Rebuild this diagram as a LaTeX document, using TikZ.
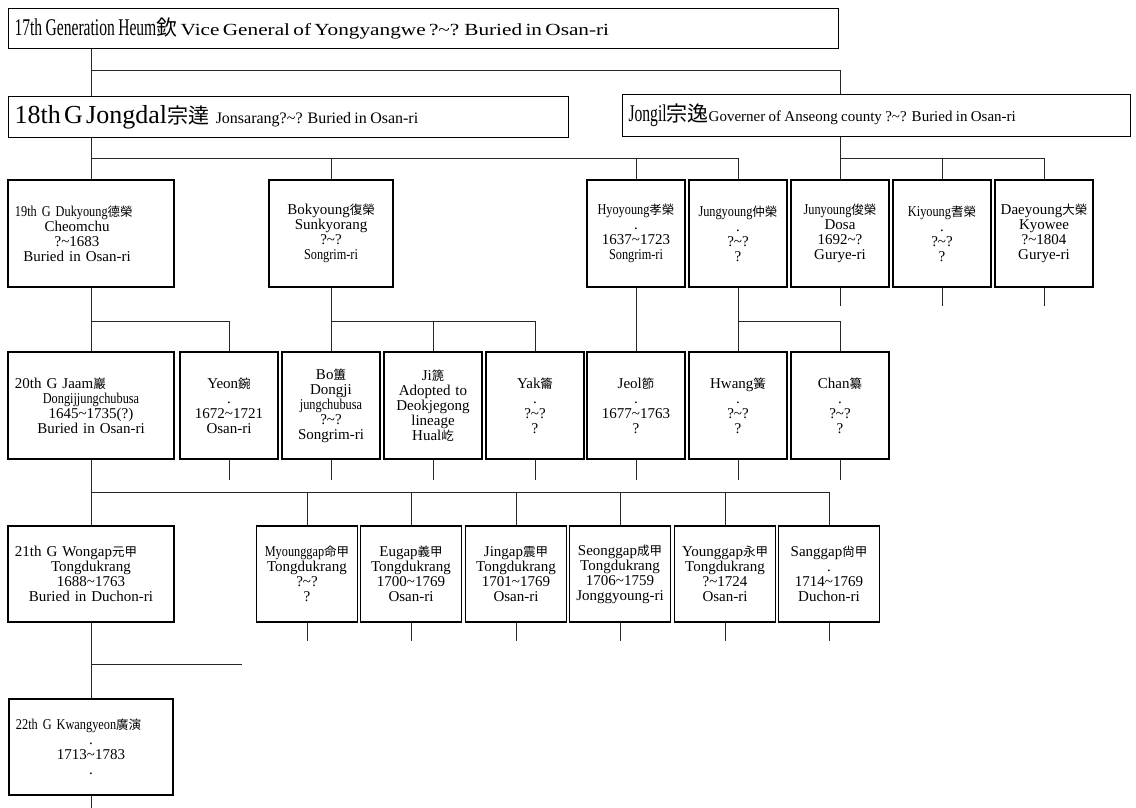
\documentclass[tikz,border=0pt]{standalone}
\usepackage{fontspec}
\setmainfont{Liberation Serif}
\newfontfamily\cjkfont{Noto Sans CJK KR}
\newfontfamily\narrowfont[FakeStretch=0.65]{Liberation Serif}
\newfontfamily\condfont[FakeStretch=0.82]{Liberation Serif}
\newfontfamily\widefont[FakeStretch=1.25]{Liberation Serif}
\usetikzlibrary{positioning,calc}
\newcommand\hj[1]{{\cjkfont\fontsize{12.5pt}{15pt}\selectfont #1}}
\newcommand\hjbig[1]{{\cjkfont\fontsize{21pt}{24pt}\selectfont #1}}
\newcommand\cond[1]{{\condfont #1}}
\newcommand\tld{\textasciitilde}
\newcommand\firstline[1]{\makebox[\linewidth][l]{#1}}
\newcommand\pushleft[1]{#1\hbox to 28pt{}}
\tikzset{
  headbox/.style={rectangle, draw=black, line width=1.1pt, inner xsep=6pt, inner ysep=2pt,
                  align=left, anchor=north west},
  genbox/.style ={rectangle, draw=black, line width=1.1pt, minimum width=166pt, minimum height=107pt,
                  text width=152pt, inner xsep=7pt, align=center, font=\fontsize{15pt}{15pt}\selectfont},
  sonbox/.style ={rectangle, draw=black, line width=1.1pt, minimum width=98pt, minimum height=107pt,
                  text width=96pt, inner xsep=1pt, align=center, font=\fontsize{15pt}{15pt}\selectfont},
  link/.style   ={draw=black!85, line width=0.8pt},
  stub/.style   ={draw=black!85, line width=0.8pt}
}
\begin{document}
\begin{tikzpicture}[x=1pt,y=-1pt]
\fill[white] (0,0) rectangle (1136,807);
% bus lines
\coordinate (bus17) at (0,70);
\coordinate (bus18) at (0,158);
\coordinate (bus19) at (0,321);
\coordinate (bus20) at (0,492);
\coordinate (bus21) at (0,664);
\coordinate (spur) at (242,664);
% 17th and 18th generation
\node[headbox, text width=818pt, minimum height=40pt] (T17) at (8,8)
  {{\narrowfont\fontsize{24pt}{24pt}\selectfont 17th Generation Heum\hjbig{欽}}\ 
   {\widefont\fontsize{17pt}{17pt}\selectfont Vice General of Yongyangwe ?\tld? Buried in Osan-ri}};
\node[headbox, text width=548pt, minimum height=41pt] (J18) at (8,96)
  {{\fontsize{26pt}{26pt}\selectfont 18th G Jongdal\hjbig{宗達}}\ \
   {\fontsize{16pt}{16pt}\selectfont Jonsarang?\tld? Buried in Osan-ri}};
\node[headbox, text width=496pt, minimum height=42pt] (JI18) at (622,94)
  {{\narrowfont\fontsize{24pt}{24pt}\selectfont Jongil\hjbig{宗逸}}%
   {\fontsize{15pt}{15pt}\selectfont Governer of Anseong county ?\tld? Buried in Osan-ri}};
% 19th generation
\node[genbox] (D19) at (91,233.5)
  {\firstline{\cond{19th G Dukyoung}\hj{德榮}}\\\pushleft{Cheomchu}\\\pushleft{?\tld1683}\\\pushleft{Buried in Osan-ri}};
\node[sonbox, minimum width=124pt, text width=122pt] (B19) at (331,233.5)
  {Bokyoung\hj{復榮}\\Sunkyorang\\?\tld?\\\cond{Songrim-ri}};
\foreach \n/\x/\t in {H19/636/{\cond{Hyoyoung}\hj{孝榮}\\.\\1637\tld1723\\\cond{Songrim-ri}},
                      Jg19/738/{\cond{Jungyoung}\hj{仲榮}\\.\\?\tld?\\?},
                      Jn19/840/{\cond{Junyoung}\hj{俊榮}\\Dosa\\1692\tld?\\Gurye-ri},
                      K19/942/{\cond{Kiyoung}\hj{耆榮}\\.\\?\tld?\\?},
                      Dy19/1044/{Daeyoung\hj{大榮}\\Kyowee\\?\tld1804\\Gurye-ri}}
  \node[sonbox] (\n) at (\x,233.5) {\t};
% 20th generation
\node[genbox] (Ja20) at (91,405.5)
  {\firstline{20th G Jaam\hj{巖}}\\\cond{Dongijjungchubusa}\\1645\tld1735(?)\\Buried in Osan-ri};
\foreach \n/\x/\t in {Y20/229/{Yeon\hj{鋺}\\.\\1672\tld1721\\Osan-ri},
                      Bo20/331/{Bo\hj{簠}\\Dongji\\\cond{jungchubusa}\\?\tld?\\Songrim-ri},
                      Ji20/433/{Ji\hj{篪}\\Adopted to\\Deokjegong\\lineage\\Hual\hj{屹}},
                      Yk20/535/{Yak\hj{籥}\\.\\?\tld?\\?},
                      Je20/636/{Jeol\hj{節}\\.\\1677\tld1763\\?},
                      Hw20/738/{Hwang\hj{簧}\\.\\?\tld?\\?},
                      Ch20/840/{Chan\hj{纂}\\.\\?\tld?\\?}}
  \node[sonbox] (\n) at (\x,405.5) {\t};
% 21st generation
\node[genbox, minimum height=96pt] (W21) at (91,574)
  {\firstline{21th G Wongap\hj{元甲}}\\Tongdukrang\\1688\tld1763\\Buried in Duchon-ri};
\foreach \n/\x/\t in {My21/307/{\cond{Myounggap}\hj{命甲}\\Tongdukrang\\?\tld?\\?},
                      Eu21/411/{Eugap\hj{義甲}\\Tongdukrang\\1700\tld1769\\Osan-ri},
                      Jn21/516/{Jingap\hj{震甲}\\Tongdukrang\\1701\tld1769\\Osan-ri},
                      Se21/620/{Seonggap\hj{成甲}\\Tongdukrang\\1706\tld1759\\Jonggyoung-ri},
                      Yo21/725/{Younggap\hj{永甲}\\Tongdukrang\\?\tld1724\\Osan-ri},
                      Sa21/829/{Sanggap\hj{尙甲}\\.\\1714\tld1769\\Duchon-ri}}
  \node[sonbox, minimum width=101pt, text width=99pt, minimum height=96pt] (\n) at (\x,574) {\t};
% 22nd generation
\node[genbox, minimum width=164pt, text width=150pt, minimum height=96pt] (Kw22) at (91,747)
  {\firstline{\cond{22th G Kwangyeon}\hj{廣演}}\\.\\1713\tld1783\\.};
% links 17 -> 18
\draw[link] (T17.south -| D19.north) -- (J18.north -| D19.north);
\draw[link] (bus17 -| D19.north) -| (JI18.north -| Jn19.north);
% links 18 -> 19
\draw[link] (J18.south -| D19.north) -- (D19.north);
\draw[link] (bus18 -| D19.north) -- (bus18 -| Jg19.north);
\foreach \c in {B19,H19,Jg19} \draw[link] (bus18 -| \c.north) -- (\c.north);
\draw[link] (JI18.south -| Jn19.north) -- (Jn19.north);
\draw[link] (bus18 -| Jn19.north) -- (bus18 -| Dy19.north);
\foreach \c in {K19,Dy19} \draw[link] (bus18 -| \c.north) -- (\c.north);
% links 19 -> 20
\draw[link] (D19.south) -- (Ja20.north);
\draw[link] (bus19 -| D19.south) -| (Y20.north);
\draw[link] (B19.south) -- (Bo20.north);
\draw[link] (bus19 -| Bo20.north) -| (Yk20.north);
\draw[link] (bus19 -| Ji20.north) -- (Ji20.north);
\draw[link] (H19.south) -- (Je20.north);
\draw[link] (Jg19.south) -- (Hw20.north);
\draw[link] (bus19 -| Hw20.north) -| (Ch20.north);
\foreach \c in {Jn19,K19,Dy19} \draw[stub] (\c.south) -- ++(0,18);
% links 20 -> 21
\draw[link] (Ja20.south) -- (W21.north);
\draw[link] (bus20 -| Ja20.south) -| (Sa21.north);
\foreach \c in {My21,Eu21,Jn21,Se21,Yo21} \draw[link] (bus20 -| \c.north) -- (\c.north);
\foreach \c in {Y20,Bo20,Ji20,Yk20,Je20,Hw20,Ch20} \draw[stub] (\c.south) -- ++(0,20);
% links 21 -> 22
\draw[link] (W21.south) -- (Kw22.north);
\draw[link] (bus21 -| W21.south) -- (spur);
\foreach \c in {My21,Eu21,Jn21,Se21,Yo21,Sa21} \draw[stub] (\c.south) -- ++(0,18);
\draw[stub] (Kw22.south) -- ++(0,12);
\end{tikzpicture}
\end{document}
